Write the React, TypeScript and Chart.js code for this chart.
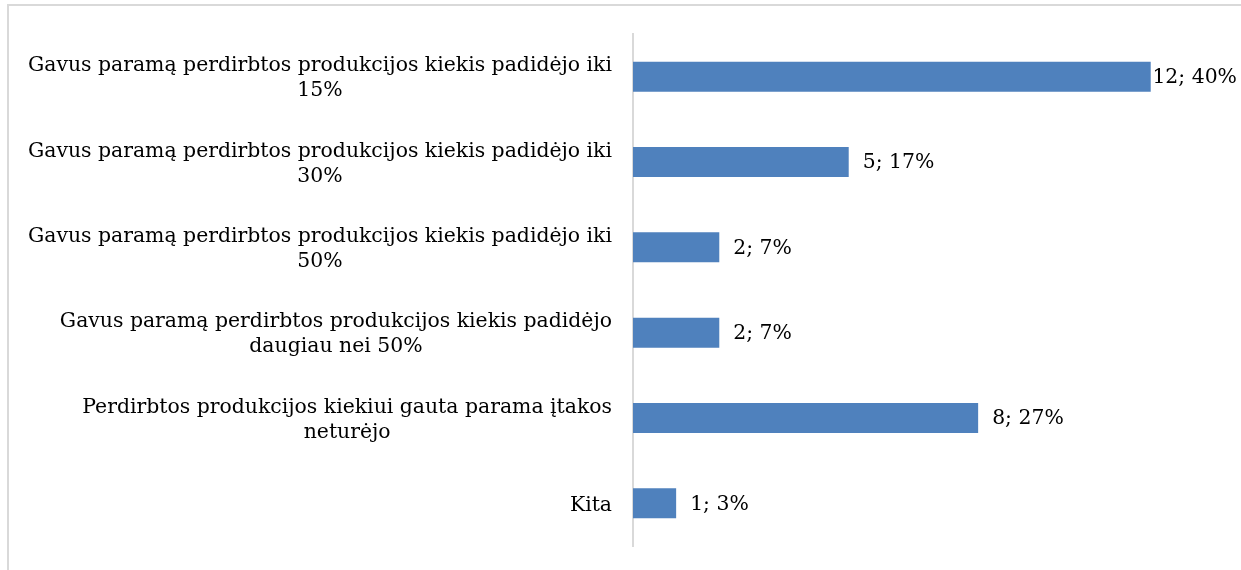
import React, { useEffect, useRef } from "react";
import { Chart, registerables } from "chart.js";

Chart.register(...registerables);

const categories: string[][] = [
  ["Gavus paramą perdirbtos produkcijos kiekis padidėjo iki", "15%"],
  ["Gavus paramą perdirbtos produkcijos kiekis padidėjo iki", "30%"],
  ["Gavus paramą perdirbtos produkcijos kiekis padidėjo iki", "50%"],
  ["Gavus paramą perdirbtos produkcijos kiekis padidėjo", "daugiau nei 50%"],
  ["Perdirbtos produkcijos kiekiui gauta parama įtakos", "neturėjo"],
  ["Kita"],
];
const counts: number[] = [12, 5, 2, 2, 8, 1];
const percents: number[] = [40, 17, 7, 7, 27, 3];

const FONT = '20.4px "DejaVu Serif"';
const W = 1241;
const H = 570;

const frame = {
  id: "frame",
  beforeDraw(chart: any) {
    const ctx = chart.ctx;
    ctx.save();
    ctx.strokeStyle = "#d9d9d9";
    ctx.lineWidth = 2;
    ctx.beginPath();
    ctx.moveTo(8, H);
    ctx.lineTo(8, 5);
    ctx.lineTo(W, 5);
    ctx.stroke();
    ctx.restore();
  },
};

const labelsPlugin = {
  id: "labelsPlugin",
  afterDatasetsDraw(chart: any) {
    const ctx = chart.ctx;
    const yScale = chart.scales.y;
    const area = chart.chartArea;
    ctx.save();
    ctx.font = FONT;
    ctx.fillStyle = "#000";
    ctx.textBaseline = "middle";
    categories.forEach((lines, i) => {
      const cy = yScale.getPixelForTick(i);
      const widths = lines.map((l) => ctx.measureText(l).width);
      const maxW = Math.max(...widths);
      const right = area.left - 21;
      const center = right - maxW / 2;
      const lh = 25;
      const startY = cy - ((lines.length - 1) * lh) / 2 + 2;
      ctx.textAlign = "center";
      lines.forEach((l, j) => {
        ctx.fillText(l, center, startY + j * lh);
      });
    });
    const meta = chart.getDatasetMeta(0);
    ctx.textAlign = "left";
    meta.data.forEach((bar: any, i: number) => {
      const txt = `${counts[i]}; ${percents[i]}%`;
      const tw = ctx.measureText(txt).width;
      let x = bar.x + 14;
      if (x + tw > W - 4) x = W - 4 - tw;
      ctx.fillText(txt, x, bar.y + 1);
    });
    ctx.restore();
  },
};

export default function App() {
  const ref = useRef<HTMLCanvasElement | null>(null);
  useEffect(() => {
    document.body.style.margin = "0";
    const canvas = ref.current!;
    const chart = new Chart(canvas, {
      type: "bar",
      data: {
        labels: categories.map((c) => c.join(" ")),
        datasets: [
          {
            data: counts,
            backgroundColor: "#4F81BD",
            borderWidth: 0,
            categoryPercentage: 1,
            barPercentage: 0.352,
          },
        ],
      },
      options: {
        indexAxis: "y",
        animation: false,
        responsive: false,
        layout: { padding: { top: 34, bottom: 24, left: 0, right: 4 } },
        plugins: { legend: { display: false }, tooltip: { enabled: false } },
        scales: {
          x: { display: false, min: 0, max: 14 },
          y: {
            ticks: { display: false },
            grid: { display: true, drawOnChartArea: false, drawTicks: false },
            border: { display: true, color: "#d9d9d9", width: 2 },
            afterFit(scale: any) {
              scale.width = 633;
            },
          },
        },
      },
      plugins: [frame, labelsPlugin],
    } as any);
    return () => chart.destroy();
  }, []);
  return (
    <div style={{ position: "absolute", left: 0, top: 0, width: W, height: H, background: "#fff" }}>
      <canvas ref={ref} width={W} height={H} style={{ display: "block" }} />
    </div>
  );
}
